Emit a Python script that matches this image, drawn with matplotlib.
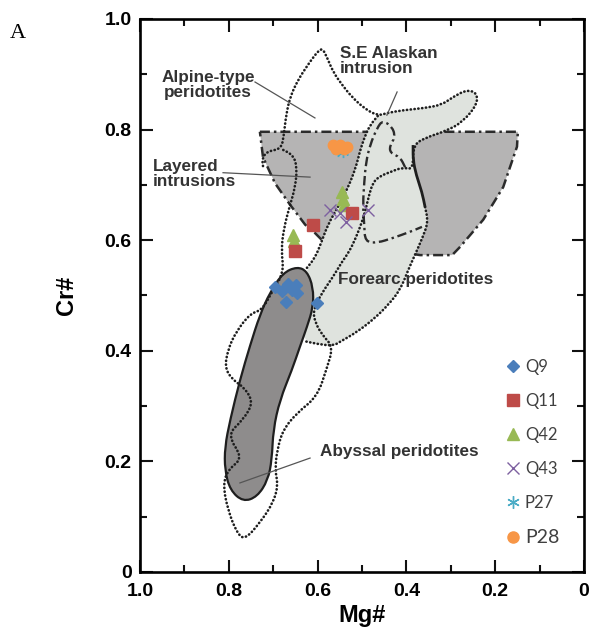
import numpy as np
import matplotlib
matplotlib.use("Agg")
import matplotlib.pyplot as plt
from matplotlib.path import Path
from matplotlib.patches import PathPatch, Polygon
from matplotlib.lines import Line2D
from matplotlib.ticker import MultipleLocator

plt.rcParams['font.family'] = ['Liberation Sans', 'DejaVu Sans']

# ---- field outlines, (Mg#, Cr#) ----
abyssal_mg = [0.646, 0.624, 0.610, 0.610, 0.624, 0.640, 0.658, 0.685, 0.700, 0.703, 0.712,
              0.736, 0.768, 0.797, 0.809, 0.809, 0.797, 0.775, 0.752, 0.730, 0.707, 0.678]
abyssal_cr = [0.552, 0.544, 0.515, 0.479, 0.443, 0.407, 0.365, 0.311, 0.257, 0.203, 0.166,
              0.136, 0.127, 0.148, 0.184, 0.226, 0.275, 0.347, 0.410, 0.465, 0.506, 0.541]

forearc_mg = [0.464, 0.444, 0.408, 0.358, 0.320, 0.295, 0.264, 0.241, 0.241, 0.273, 0.309,
              0.358, 0.385, 0.385, 0.378, 0.365, 0.358, 0.351, 0.363, 0.381, 0.396, 0.414,
              0.441, 0.471, 0.511, 0.550, 0.565, 0.599, 0.633, 0.640, 0.628, 0.624, 0.606,
              0.592, 0.577, 0.554, 0.532, 0.514, 0.505, 0.495, 0.482]
forearc_cr = [0.825, 0.830, 0.835, 0.839, 0.845, 0.859, 0.872, 0.866, 0.845, 0.814, 0.798,
              0.785, 0.772, 0.745, 0.718, 0.687, 0.660, 0.633, 0.606, 0.573, 0.546, 0.510,
              0.483, 0.459, 0.434, 0.416, 0.409, 0.412, 0.418, 0.474, 0.519, 0.550, 0.568,
              0.595, 0.628, 0.660, 0.694, 0.731, 0.760, 0.785, 0.808]

# forearc boundary pieces
fa_left_mg = [0.624, 0.606, 0.592, 0.577, 0.554, 0.532, 0.514, 0.505, 0.495, 0.482, 0.464]
fa_left_cr = [0.550, 0.568, 0.595, 0.628, 0.660, 0.694, 0.731, 0.760, 0.785, 0.808, 0.825]
fa_lower_mg = [0.358, 0.351, 0.363, 0.381, 0.396, 0.414, 0.441, 0.471, 0.511, 0.550, 0.565, 0.599, 0.633]
fa_lower_cr = [0.660, 0.633, 0.606, 0.573, 0.546, 0.510, 0.483, 0.459, 0.434, 0.416, 0.409, 0.412, 0.418]
fa_edge_mg = [0.385, 0.385, 0.378, 0.365, 0.358]
fa_edge_cr = [0.772, 0.745, 0.718, 0.687, 0.660]

layered_mg = [0.730, 0.149, 0.151, 0.182, 0.227, 0.279, 0.297, 0.369, 0.590, 0.606, 0.628, 0.662, 0.696, 0.723]
layered_cr = [0.796, 0.796, 0.769, 0.696, 0.637, 0.588, 0.573, 0.573, 0.600, 0.613, 0.628, 0.664, 0.703, 0.750]

alpine_mg = [0.723, 0.725, 0.712, 0.682, 0.676, 0.671, 0.662, 0.644, 0.622, 0.604, 0.590,
             0.579, 0.565, 0.545, 0.523, 0.493, 0.464,
             0.444, 0.408, 0.358, 0.320, 0.295, 0.264, 0.241, 0.241, 0.273, 0.309, 0.358, 0.385,
             0.385, 0.408, 0.437, 0.459, 0.475, 0.484, 0.491, 0.500, 0.514, 0.529, 0.545, 0.565,
             0.590, 0.610, 0.606, 0.590, 0.565, 0.579, 0.601, 0.646, 0.678, 0.691, 0.696, 0.689,
             0.700, 0.730, 0.764, 0.782, 0.802, 0.813, 0.802, 0.768, 0.804, 0.768, 0.745, 0.764,
             0.791, 0.809, 0.802, 0.784, 0.752, 0.725, 0.703, 0.676, 0.682, 0.676, 0.662, 0.651,
             0.646, 0.655, 0.682]
alpine_cr = [0.734, 0.749, 0.761, 0.765, 0.790, 0.826, 0.859, 0.890, 0.917, 0.937, 0.948,
             0.931, 0.904, 0.881, 0.859, 0.837, 0.825,
             0.830, 0.835, 0.839, 0.845, 0.859, 0.872, 0.866, 0.845, 0.814, 0.798, 0.785, 0.772,
             0.727, 0.732, 0.723, 0.716, 0.705, 0.682, 0.658, 0.633, 0.604, 0.579, 0.561, 0.534,
             0.505, 0.474, 0.452, 0.429, 0.407, 0.369, 0.317, 0.288, 0.257, 0.221, 0.185, 0.157,
             0.125, 0.089, 0.058, 0.071, 0.112, 0.157, 0.185, 0.206, 0.248, 0.275, 0.306, 0.333,
             0.347, 0.369, 0.402, 0.434, 0.467, 0.474, 0.506, 0.542, 0.582, 0.622, 0.664, 0.694,
             0.731, 0.754, 0.765]

alaskan_mg = [0.403, 0.414, 0.437, 0.437, 0.426, 0.430, 0.453, 0.466, 0.482, 0.491, 0.495,
              0.498, 0.495, 0.493, 0.466, 0.430, 0.392, 0.365]
alaskan_cr = [0.732, 0.750, 0.758, 0.772, 0.785, 0.803, 0.817, 0.803, 0.772, 0.741, 0.705,
              0.664, 0.628, 0.597, 0.595, 0.604, 0.615, 0.624]

# ---- samples ----
q9_mg = [0.696, 0.680, 0.667, 0.649, 0.646, 0.671, 0.658, 0.601]
q9_cr = [0.515, 0.508, 0.521, 0.519, 0.505, 0.488, 0.510, 0.486]
q11_mg = [0.610, 0.523, 0.651]
q11_cr = [0.627, 0.649, 0.580]
q42_mg = [0.655, 0.653, 0.545, 0.543, 0.541]
q42_cr = [0.609, 0.598, 0.687, 0.675, 0.664]
q43_mg = [0.572, 0.550, 0.536, 0.486]
q43_cr = [0.655, 0.649, 0.633, 0.655]
p27_mg = [0.554, 0.543]
p27_cr = [0.761, 0.760]
p28_mg = [0.565, 0.550, 0.534, 0.559, 0.541]
p28_cr = [0.772, 0.772, 0.769, 0.765, 0.765]

x_ticks = [1.0, 0.8, 0.6, 0.4, 0.2, 0.0]
x_tick_labels = ["1.0", "0.8", "0.6", "0.4", "0.2", "0"]
y_ticks = [0.0, 0.2, 0.4, 0.6, 0.8, 1.0]
y_tick_labels = ["0", "0.2", "0.4", "0.6", "0.8", "1.0"]


def smooth_path(x, y, closed=False):
    """Quadratic B-spline style path through the midpoints of the vertex list."""
    p = np.column_stack([x, y])
    mid = (p + np.roll(p, -1, axis=0)) / 2
    if closed:
        verts, codes = [mid[-1]], [Path.MOVETO]
        for i in range(len(p)):
            verts += [p[i], mid[i]]
            codes += [Path.CURVE3, Path.CURVE3]
        verts.append(mid[-1]); codes.append(Path.CLOSEPOLY)
    else:
        verts, codes = [p[0], mid[0]], [Path.MOVETO, Path.LINETO]
        for i in range(1, len(p) - 1):
            verts += [p[i], mid[i]]
            codes += [Path.CURVE3, Path.CURVE3]
        verts.append(p[-1]); codes.append(Path.LINETO)
    return Path(verts, codes)


DOT = (0, (0.1, 1.35))
DASHDOT = (0, (4, 1.6, 1, 1.6))
dotted = dict(fill=False, edgecolor='#1e1e1e', lw=1.9, ls=DOT, capstyle='round')

fig = plt.figure(figsize=(5.91, 6.30), dpi=100)
ax = fig.add_axes([0.2369, 0.0921, 0.7513, 0.8778])

# layered intrusions
ax.add_patch(Polygon(np.column_stack([layered_mg, layered_cr]), closed=True,
                     facecolor='#b5b4b4', edgecolor='#2b2b2b', lw=1.8, ls=DASHDOT, zorder=1))
# forearc peridotites
ax.add_patch(PathPatch(smooth_path(forearc_mg, forearc_cr, closed=True),
                       facecolor='#dfe3de', edgecolor='none', zorder=2))
ax.add_patch(PathPatch(smooth_path(fa_left_mg, fa_left_cr), zorder=3, **dotted))
ax.add_patch(PathPatch(smooth_path(fa_lower_mg, fa_lower_cr), zorder=3, **dotted))
ax.add_patch(PathPatch(smooth_path(fa_edge_mg, fa_edge_cr), fill=False, edgecolor='#1e1e1e',
                       lw=2.0, zorder=3))
# S.E Alaskan intrusion
ax.add_patch(PathPatch(smooth_path(alaskan_mg, alaskan_cr), fill=False,
                       edgecolor='#2b2b2b', lw=1.7, ls=DASHDOT, zorder=3))
# abyssal peridotites
ax.add_patch(PathPatch(smooth_path(abyssal_mg, abyssal_cr, closed=True),
                       facecolor='#8e8c8c', edgecolor='#1e1e1e', lw=1.6, zorder=4))
# alpine-type peridotites
ax.add_patch(PathPatch(smooth_path(alpine_mg, alpine_cr), zorder=5, **dotted))

# leader lines
leader = dict(color='#555555', lw=0.9, zorder=5)
ax.plot([0.741, 0.606], [0.886, 0.821], **leader)
ax.plot([0.813, 0.617], [0.722, 0.714], **leader)
ax.plot([0.421, 0.444], [0.868, 0.826], **leader)
ax.plot([0.617, 0.775], [0.206, 0.161], **leader)

lab = dict(fontsize=12.3, fontweight='bold', color='#333333', zorder=6)
ax.text(0.847, 0.881, "Alpine-type\nperidotites", ha='center', va='center', linespacing=1.0, **lab)
ax.text(0.971, 0.720, "Layered\nintrusions", ha='left', va='center', linespacing=1.0, **lab)
ax.text(0.550, 0.924, "S.E Alaskan\nintrusion", ha='left', va='center', linespacing=1.0, **lab)
ax.text(0.554, 0.528, "Forearc peridotites", ha='left', va='center', **lab)
ax.text(0.595, 0.217, "Abyssal peridotites", ha='left', va='center', **lab)

# samples
ax.plot(q9_mg, q9_cr, 'D', color='#4a7ebb', ms=6.5, mec='#4a7ebb', ls='none', zorder=7)
ax.plot(q42_mg, q42_cr, '^', color='#98b954', ms=8, ls='none', zorder=7)
ax.plot(q11_mg, q11_cr, 's', color='#be4b48', ms=8, ls='none', zorder=7)
ax.plot(q43_mg, q43_cr, 'x', color='#7d60a0', ms=9, mew=1.0, ls='none', zorder=7)
ax.plot(p27_mg, p27_cr, marker=(6, 2, 0), color='#4bacc6', ms=8, mew=1.0, ls='none', zorder=7)
ax.plot(p28_mg, p28_cr, 'o', color='#f79646', ms=7.5, ls='none', zorder=8)

handles = [
    Line2D([], [], marker='D', color='#4a7ebb', ms=6, ls='none'),
    Line2D([], [], marker='s', color='#be4b48', ms=9, ls='none'),
    Line2D([], [], marker='^', color='#98b954', ms=8, ls='none'),
    Line2D([], [], marker='x', color='#7d60a0', ms=9, mew=1.0, ls='none'),
    Line2D([], [], marker=(6, 2, 0), color='#4bacc6', ms=9, mew=1.0, ls='none'),
    Line2D([], [], marker='o', color='#f79646', ms=8, ls='none'),
]
leg = ax.legend(handles, ["Q9", "Q11", "Q42", "Q43", "P27", "P28"], loc='upper left',
                bbox_to_anchor=(0.79, 0.412), frameon=False, handlelength=0.9,
                handletextpad=0.25, labelspacing=1.08,
                prop={'family': ['Lato', 'DejaVu Sans'], 'size': 12})
for t in leg.get_texts():
    t.set_color('#404040')
leg.get_texts()[-1].set_fontsize(14)

ax.set_xlim(1, 0)
ax.set_ylim(0, 1)
ax.set_xticks(x_ticks)
ax.set_xticklabels(x_tick_labels)
ax.set_yticks(y_ticks)
ax.set_yticklabels(y_tick_labels)
ax.xaxis.set_minor_locator(MultipleLocator(0.1))
ax.yaxis.set_minor_locator(MultipleLocator(0.1))
ax.tick_params(which='both', direction='in', top=True, right=True, width=1.5, color='#111111')
ax.tick_params(which='major', length=9, labelsize=14, pad=6)
ax.tick_params(axis='x', which='major', pad=8)
ax.tick_params(which='minor', length=5)
for t in ax.get_xticklabels() + ax.get_yticklabels():
    t.set_fontweight('bold')
for s in ax.spines.values():
    s.set_linewidth(1.9)

ax.set_xlabel("Mg#", fontsize=17, fontweight='bold')
ax.set_ylabel("Cr#", fontsize=17, fontweight='bold')
ax.xaxis.set_label_coords(0.5, -0.058)
ax.yaxis.set_label_coords(-0.14, 0.5)

fig.text(0.017, 0.94, "A", fontsize=16, family=['Liberation Serif', 'DejaVu Serif'])

fig.savefig("out.png", dpi=100)
